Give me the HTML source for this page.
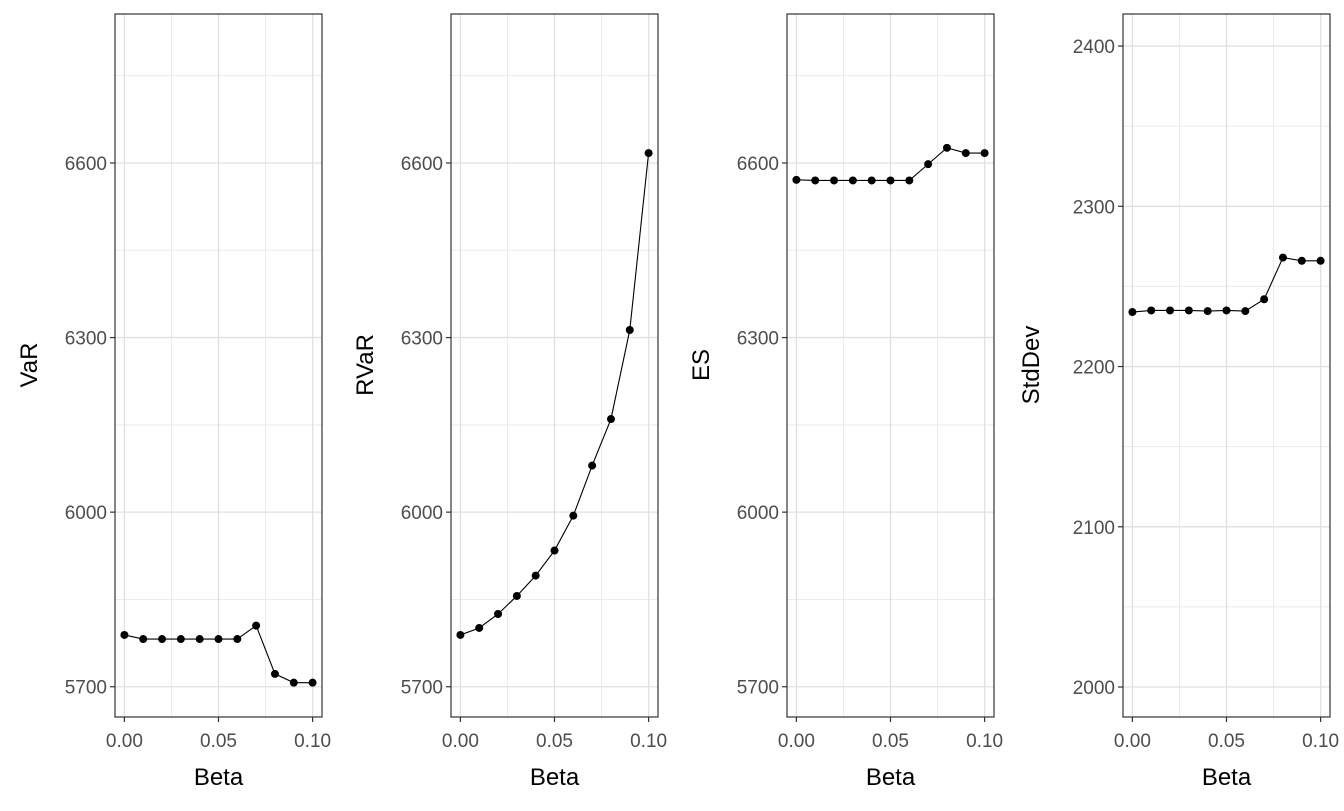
<!DOCTYPE html>
<html><head><meta charset="utf-8"><style>
body{margin:0;background:#fff}
svg text{font-family:"Liberation Sans",sans-serif}
</style></head><body>
<svg id="c" width="1344" height="806" xmlns="http://www.w3.org/2000/svg"></svg>
<script>
const betas=[0,0.01,0.02,0.03,0.04,0.05,0.06,0.07,0.08,0.09,0.1];
const varVals=[5789,5782,5782,5782,5782,5782,5782,5805,5722,5707,5707];
const rvarVals=[5789,5801,5825,5856,5891,5934,5994,6080,6160,6313,6617];
const esVals=[6571,6570,6570,6570,6570,6570,6570,6598,6626,6617,6617];
const sdVals=[2234,2235,2235,2235,2234.6,2235,2234.6,2242,2268,2266,2266];
const xTicks=[0,0.05,0.1];
const xTickLabels=["0.00","0.05","0.10"];
const yTicksA=[5700,6000,6300,6600];
const yTicksB=[2000,2100,2200,2300,2400];
const panels=[
 {name:"var",title:"VaR",vals:varVals,x0:115,ticks:yTicksA,ymin:5648,ymax:6856},
 {name:"rvar",title:"RVaR",vals:rvarVals,x0:451,ticks:yTicksA,ymin:5648,ymax:6856},
 {name:"es",title:"ES",vals:esVals,x0:787,ticks:yTicksA,ymin:5648,ymax:6856},
 {name:"stddev",title:"StdDev",vals:sdVals,x0:1123,ticks:yTicksB,ymin:1981.3,ymax:2420}
];
const svg=document.getElementById('c');const NS="http://www.w3.org/2000/svg";
function mk(t,a,p){const e=document.createElementNS(NS,t);for(const k in a)e.setAttribute(k,a[k]);(p||svg).appendChild(e);return e;}
const yTop=14,yBot=717,W=207;
panels.forEach(p=>{
 const g=mk('g',{});
 
 
 const sx=v=>p.x0+9.4+v/0.1*(W-18.8);
 const sy=v=>yBot-(v-p.ymin)/(p.ymax-p.ymin)*(yBot-yTop);
 const step=p.ticks[1]-p.ticks[0];
 for(let v=p.ticks[0]-step/2;v<=p.ymax;v+=step){if(v<p.ymin)continue;const y=sy(v);mk('line',{x1:p.x0,x2:p.x0+W,y1:y,y2:y,stroke:'#ebebeb','stroke-width':1},g);}
 [0.025,0.075].forEach(v=>mk('line',{x1:sx(v),x2:sx(v),y1:yTop,y2:yBot,stroke:'#ebebeb','stroke-width':1},g));
 p.ticks.forEach(v=>{const y=sy(v);mk('line',{x1:p.x0,x2:p.x0+W,y1:y,y2:y,stroke:'#e0e0e0','stroke-width':1.3},g);
  mk('line',{x1:p.x0-5,x2:p.x0,y1:y,y2:y,stroke:'#333','stroke-width':1.2},g);
  const t=mk('text',{x:p.x0-8,y:y+7,'text-anchor':'end','font-size':19,fill:'#4d4d4d'},g);t.textContent=v;
  
  });
 xTicks.forEach((v,i)=>{const x=sx(v);mk('line',{x1:x,x2:x,y1:yTop,y2:yBot,stroke:'#e0e0e0','stroke-width':1.3},g);
  mk('line',{x1:x,x2:x,y1:yBot,y2:yBot+5,stroke:'#333','stroke-width':1.2},g);
  const t=mk('text',{x:x,y:yBot+30,'text-anchor':'middle','font-size':19,fill:'#4d4d4d'},g);t.textContent=xTickLabels[i];
  
  });
 mk('rect',{x:p.x0,y:yTop,width:W,height:yBot-yTop,fill:'none',stroke:'#333','stroke-width':1.2},g);
 const pts=betas.map((b,i)=>sx(b)+','+sy(p.vals[i])).join(' ');
 const l=mk('polyline',{points:pts,fill:'none',stroke:'#000','stroke-width':1.1},g);
 
 
 betas.forEach((b,i)=>{const c=mk('circle',{cx:sx(b),cy:sy(p.vals[i]),r:4,fill:'#000'},g);
  
  });
 const xt=mk('text',{x:p.x0+W/2,y:785,'text-anchor':'middle','font-size':24,fill:'#000'},g);xt.textContent='Beta';
 
 
 const tx=p.title==='StdDev'?p.x0-84:p.x0-78;
 const yt=mk('text',{x:tx,y:365,'text-anchor':'middle','font-size':24,fill:'#000',transform:`rotate(-90 ${tx} 365)`},g);yt.textContent=p.title;
 
 
});
</script>
</body></html>
